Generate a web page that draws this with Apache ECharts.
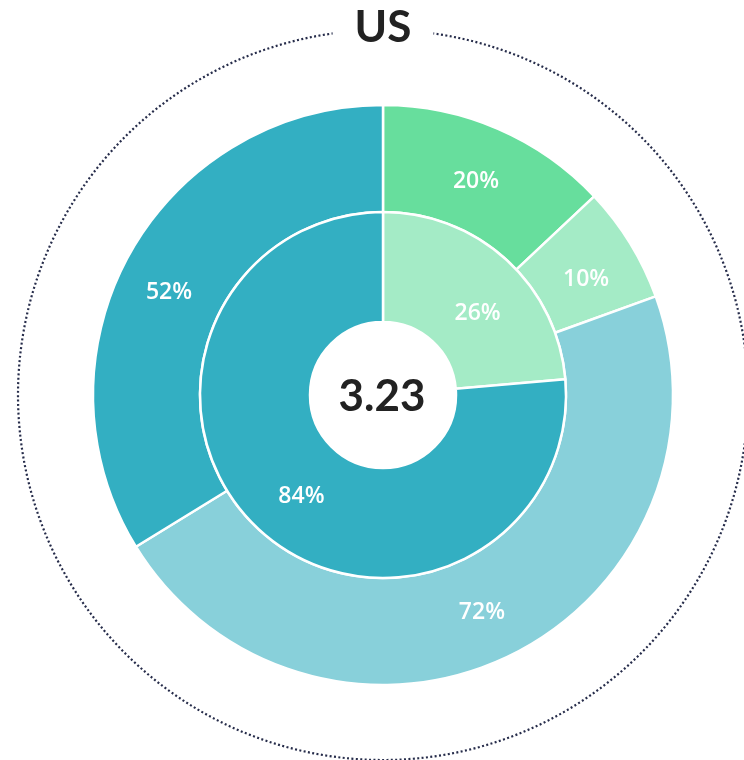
<!DOCTYPE html>
<html>
<head>
<meta charset="utf-8">
<script src="https://cdn.jsdelivr.net/npm/echarts@6/dist/echarts.min.js"></script>
<style>html,body{margin:0;padding:0;background:#fff}#c{width:744px;height:760px}</style>
</head>
<body>
<div id="c"></div>
<script>
var title = 'US';
var centerValue = '3.23';
var outerNames = ['A1', 'A2', 'B1', 'B2'];
var outerValues = [20, 10, 72, 52];
var innerNames = ['A', 'B'];
var innerValues = [26, 84];

// styling (kept apart from the data)
var outerColors = ['#67DE9D', '#A4EBC6', '#88D0DA', '#33AFC2'];
var innerColors = ['#A4EBC6', '#33AFC2'];
var outerNudge = [[-2, 6], [-1, 10], [-5, 2], [-5, 14]];
var innerNudge = [[6, 15], [7, 5]];

function items(names, values, colors, nudges) {
  return values.map(function (v, i) {
    return { name: names[i], value: v, itemStyle: { color: colors[i] }, label: { offset: nudges[i] } };
  });
}

var chart = echarts.init(document.getElementById('c'));
var labelStyle = { show: true, position: 'inside', formatter: '{c}%', color: '#fff', fontSize: 23, fontWeight: 600, fontFamily: '"Open Sans", Lato, sans-serif' };
chart.setOption({
  animation: false,
  graphic: [
    { type: 'circle', shape: { cx: 383, cy: 395, r: 365 }, z: 0,
      style: { fill: 'none', stroke: '#262c4a', lineWidth: 2.2, lineDash: [2, 2.4] } },
    { type: 'text', x: 383, y: 28, z: 10,
      style: { text: title, x: 0, y: 0, align: 'center', verticalAlign: 'middle', fill: '#222',
        font: 'bold 44px Lato, "Open Sans", sans-serif', backgroundColor: '#fff', padding: [4, 22] } },
    { type: 'text', x: 382, y: 397, z: 10,
      style: { text: centerValue, align: 'center', verticalAlign: 'middle', fill: '#222',
        font: 'bold 44px Lato, "Open Sans", sans-serif' } }
  ],
  series: [
    { type: 'pie', center: [383, 395], radius: [183, 290], startAngle: 90, clockwise: true,
      label: labelStyle, labelLine: { show: false }, silent: true,
      itemStyle: { borderColor: '#fff', borderWidth: 2.5 },
      data: items(outerNames, outerValues, outerColors, outerNudge) },
    { type: 'pie', center: [383, 395], radius: [73, 183], startAngle: 90, clockwise: true,
      label: labelStyle, labelLine: { show: false }, silent: true,
      itemStyle: { borderColor: '#fff', borderWidth: 2.5 },
      data: items(innerNames, innerValues, innerColors, innerNudge) }
  ]
});
</script>
</body>
</html>
